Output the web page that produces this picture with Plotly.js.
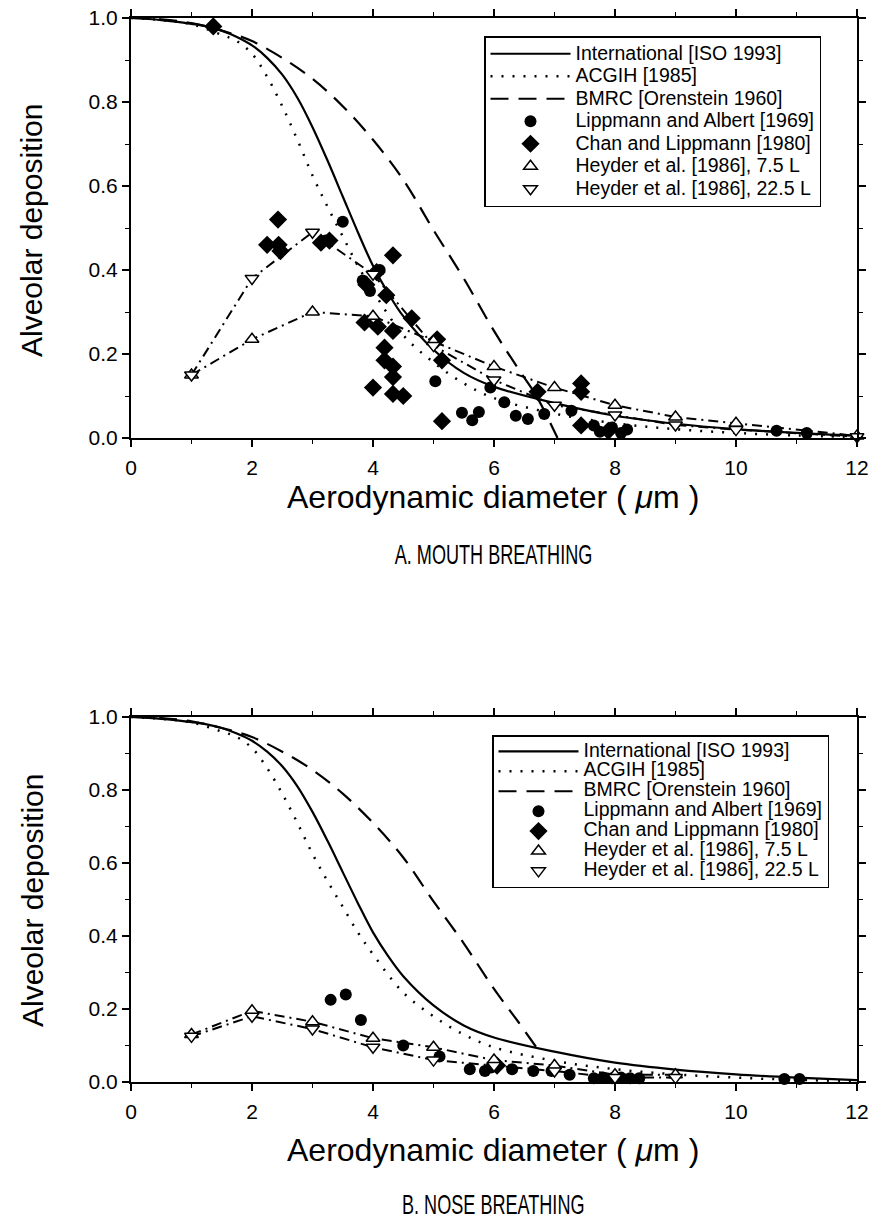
<!DOCTYPE html>
<html>
<head>
<meta charset="utf-8">
<script src="https://cdn.plot.ly/plotly-3.0.1.min.js"></script>
<style>
html,body{margin:0;padding:0;background:#fff}
#chart{width:871px;height:1228px}
</style>
</head>
<body>
<div id="chart"></div>
<script>
// ---- curves ----
var isoX = [0, 0.5, 1, 1.25, 1.5, 1.75, 2, 2.25, 2.5, 2.75, 3, 3.25, 3.5, 3.75, 4, 4.25, 4.5, 5, 5.5, 6, 7, 8, 9, 10, 11, 12];
var isoY = [1.0, 0.995, 0.986, 0.98, 0.97, 0.955, 0.935, 0.905, 0.865, 0.81, 0.74, 0.66, 0.575, 0.49, 0.41, 0.345, 0.29, 0.21, 0.155, 0.122, 0.083, 0.053, 0.034, 0.021, 0.012, 0.005];
var acgX = [0, 0.5, 1, 1.5, 1.75, 2, 2.25, 2.5, 2.75, 3, 3.25, 3.5, 3.75, 4, 4.5, 5, 5.5, 6, 7, 8, 9, 10, 11, 12];
var acgY = [1.0, 0.995, 0.985, 0.96, 0.945, 0.915, 0.86, 0.79, 0.71, 0.625, 0.55, 0.48, 0.41, 0.35, 0.245, 0.18, 0.13, 0.095, 0.058, 0.035, 0.021, 0.012, 0.006, 0.002];
var bmrcMouthX = [0, 0.5, 1, 1.5, 2, 2.5, 3, 3.5, 4, 4.5, 5, 5.5, 6, 6.4, 6.7, 7.05];
var bmrcMouthY = [1.0, 0.997, 0.988, 0.97, 0.945, 0.905, 0.855, 0.79, 0.71, 0.615, 0.495, 0.38, 0.255, 0.165, 0.10, 0.0];
var bmrcNoseX = [0, 0.5, 1, 1.5, 2, 2.5, 3, 3.5, 4, 4.5, 5, 5.5, 6, 6.4, 6.7];
var bmrcNoseY = [1.0, 0.997, 0.988, 0.97, 0.945, 0.905, 0.855, 0.79, 0.71, 0.615, 0.495, 0.38, 0.255, 0.165, 0.095];

// ---- A. mouth breathing data ----
var lipMouthX = [3.22, 3.5, 3.83, 3.95, 4.11, 5.03, 5.47, 5.64, 5.75, 5.94, 6.17, 6.36, 6.56, 6.83, 7.28, 7.65, 7.75, 7.95, 8.1, 8.2, 10.67, 11.17];
var lipMouthY = [0.47, 0.515, 0.375, 0.35, 0.40, 0.135, 0.06, 0.042, 0.062, 0.12, 0.085, 0.053, 0.045, 0.057, 0.065, 0.03, 0.015, 0.025, 0.012, 0.02, 0.017, 0.012];
var chanMouthX = [1.36, 2.25, 2.43, 2.44, 2.47, 3.14, 3.28, 3.86, 3.89, 4.0, 4.06, 4.08, 4.19, 4.19, 4.22, 4.33, 4.33, 4.33, 4.33, 4.33, 4.5, 4.64, 5.06, 5.14, 5.14, 6.72, 7.44, 7.44, 7.44, 7.89];
var chanMouthY = [0.98, 0.46, 0.52, 0.46, 0.445, 0.465, 0.47, 0.275, 0.365, 0.12, 0.395, 0.265, 0.215, 0.185, 0.34, 0.435, 0.255, 0.17, 0.145, 0.105, 0.10, 0.285, 0.235, 0.185, 0.04, 0.11, 0.13, 0.11, 0.03, 0.017];
var heyMouthX = [1, 2, 3, 4, 5, 6, 7, 8, 9, 10, 12];
var hey75Mouth = [0.15, 0.235, 0.30, 0.29, 0.23, 0.17, 0.12, 0.078, 0.05, 0.035, 0.005];
var hey225Mouth = [0.15, 0.38, 0.49, 0.39, 0.22, 0.138, 0.078, 0.055, 0.031, 0.02, 0.003];

// ---- B. nose breathing data ----
var lipNoseX = [3.3, 3.55, 3.8, 4.5, 5.1, 5.6, 5.85, 5.95, 6.05, 6.3, 6.65, 6.95, 7.25, 7.65, 7.8, 7.95, 8.1, 8.25, 8.4, 10.8, 11.05];
var lipNoseY = [0.225, 0.24, 0.17, 0.10, 0.07, 0.035, 0.03, 0.04, 0.045, 0.035, 0.03, 0.03, 0.02, 0.01, 0.012, 0.01, 0.012, 0.01, 0.01, 0.008, 0.008];
var chanNoseX = [6.05];
var chanNoseY = [0.045];
var heyNoseX = [1, 2, 3, 4, 5, 6, 7, 8, 9];
var hey75Nose = [0.13, 0.195, 0.165, 0.12, 0.095, 0.06, 0.045, 0.02, 0.02];
var hey225Nose = [0.125, 0.18, 0.145, 0.095, 0.06, 0.045, 0.03, 0.012, 0.012];

var names = ["International [ISO 1993]", "ACGIH [1985]", "BMRC [Orenstein 1960]",
  "Lippmann and Albert [1969]", "Chan and Lippmann [1980]",
  "Heyder et al. [1986], 7.5 L", "Heyder et al. [1986], 22.5 L"];
var captions = ["A. MOUTH BREATHING", "B. NOSE BREATHING"];
var yTitle = "Alveolar deposition";
var xTitle = "Aerodynamic diameter ( <i>μ</i>m )";

var FONT = "Liberation Sans, Arial, Helvetica, sans-serif";

function panel(xa, ya, lg, txtSize, bmX, bmY, lipX, lipY, chX, chY, hX, h75, h225) {
  var common = {xaxis: xa, yaxis: ya, legend: lg, cliponaxis: false};
  function t(o) { return Object.assign({}, common, o); }
  function nm(i) { return '<span style="font-size:' + txtSize + 'px">' + names[i] + '</span>'; }
  var hdash = "10px,5px,2px,5px";
  return [
    t({x: hX, y: h75, mode: "lines", line: {color: "black", width: 2, dash: hdash}, showlegend: false, hoverinfo: "skip"}),
    t({x: hX, y: h225, mode: "lines", line: {color: "black", width: 2, dash: hdash}, showlegend: false, hoverinfo: "skip"}),
    t({x: isoX, y: isoY, mode: "lines", name: nm(0), line: {color: "black", width: 2.2, shape: "spline"}}),
    t({x: acgX, y: acgY, mode: "lines", name: nm(1), line: {color: "black", width: 2.5, dash: "2px,9px", shape: "spline"}}),
    t({x: bmX, y: bmY, mode: "lines", name: nm(2), line: {color: "black", width: 2.2, dash: "18px,10px", shape: "spline"}}),
    t({x: lipX, y: lipY, mode: "markers", name: nm(3), marker: {symbol: "circle", size: 12, color: "black"}}),
    t({x: chX, y: chY, mode: "markers", name: nm(4), marker: {symbol: "diamond", size: 14, color: "black"}}),
    t({x: hX, y: h75, mode: "markers", name: nm(5), marker: {symbol: "triangle-up", size: 12, color: "white", line: {color: "black", width: 1.5}}}),
    t({x: hX, y: h225, mode: "markers", name: nm(6), marker: {symbol: "triangle-down", size: 12, color: "white", line: {color: "black", width: 1.5}}})
  ];
}

var data = panel("x", "y", "legend", 19.5, bmrcMouthX, bmrcMouthY, lipMouthX, lipMouthY, chanMouthX, chanMouthY, heyMouthX, hey75Mouth, hey225Mouth)
  .concat(panel("x2", "y2", "legend2", 19.5, bmrcNoseX, bmrcNoseY, lipNoseX, lipNoseY, chanNoseX, chanNoseY, heyNoseX, hey75Nose, hey225Nose));

function xax(anchor) {
  return {domain: [131/871, 857/871], anchor: anchor, range: [0, 12], dtick: 2, tick0: 0,
    showline: true, linewidth: 2, linecolor: "black", mirror: "allticks", ticks: "outside", ticklen: 7, tickwidth: 1.5, tickcolor: "black",
    minor: {dtick: 1, ticks: "outside", ticklen: 4, tickcolor: "black", tickwidth: 1},
    ticklabelstandoff: 3,
    showgrid: false, zeroline: false, tickfont: {family: FONT, size: 21, color: "black"}};
}
function yax(anchor, d) {
  return {domain: d, anchor: anchor, range: [0, 1], dtick: 0.2, tick0: 0, tickformat: ".1f",
    showline: true, linewidth: 2, linecolor: "black", mirror: "allticks", ticks: "outside", ticklen: 7, tickwidth: 1.5, tickcolor: "black",
    minor: {dtick: 0.1, ticks: "outside", ticklen: 4, tickcolor: "black", tickwidth: 1},
    showgrid: false, zeroline: false, tickfont: {family: FONT, size: 21, color: "black"}};
}
function leg(x, y, size) {
  return {x: x, y: y, xanchor: "left", yanchor: "top", bgcolor: "white", bordercolor: "black", borderwidth: 1.5,
    font: {family: FONT, size: size, color: "black"}, itemwidth: 80, tracegroupgap: 0, traceorder: "normal"};
}
function ann(text, x, y, size, angle) {
  return {text: text, x: x, y: y, xref: "paper", yref: "paper", showarrow: false, xanchor: "center", yanchor: "middle",
    textangle: angle || 0, font: {family: FONT, size: size, color: "black"}};
}

var layout = {
  width: 871, height: 1228, margin: {l: 0, r: 0, t: 0, b: 0},
  paper_bgcolor: "white", plot_bgcolor: "white", showlegend: true,
  xaxis: xax("y"), yaxis: yax("x", [1 - 438/1228, 1 - 18/1228]),
  xaxis2: xax("y2"), yaxis2: yax("x2", [1 - 1082/1228, 1 - 717/1228]),
  legend: leg(484/871, 1 - 36/1228, 15),
  legend2: leg(492/871, 1 - 735/1228, 13),
  annotations: [
    ann(yTitle, 32/871, 1 - 230/1228, 30, -90),
    ann(xTitle, 493/871, 1 - 497/1228, 32),
    ann(captions[0], 493/871, 1 - 555/1228, 27),
    ann(yTitle, 32/871, 1 - 900/1228, 30, -90),
    ann(xTitle, 493/871, 1 - 1150/1228, 32),
    ann(captions[1], 493/871, 1 - 1205/1228, 27)
  ]
};

Plotly.newPlot("chart", data, layout, {displayModeBar: false, staticPlot: true}).then(function (gd) {
  // the captions are set in a condensed face in the original: narrow them horizontally
  var S = 0.67;
  gd.querySelectorAll(".annotation-text").forEach(function (t) {
    if (captions.indexOf(t.textContent) >= 0) {
      var bb = t.getBBox();
      var cx = bb.x + bb.width / 2;
      t.setAttribute("transform", "translate(" + (cx * (1 - S)) + ",0) scale(" + S + ",1)");
    }
  });
});
</script>
</body>
</html>
